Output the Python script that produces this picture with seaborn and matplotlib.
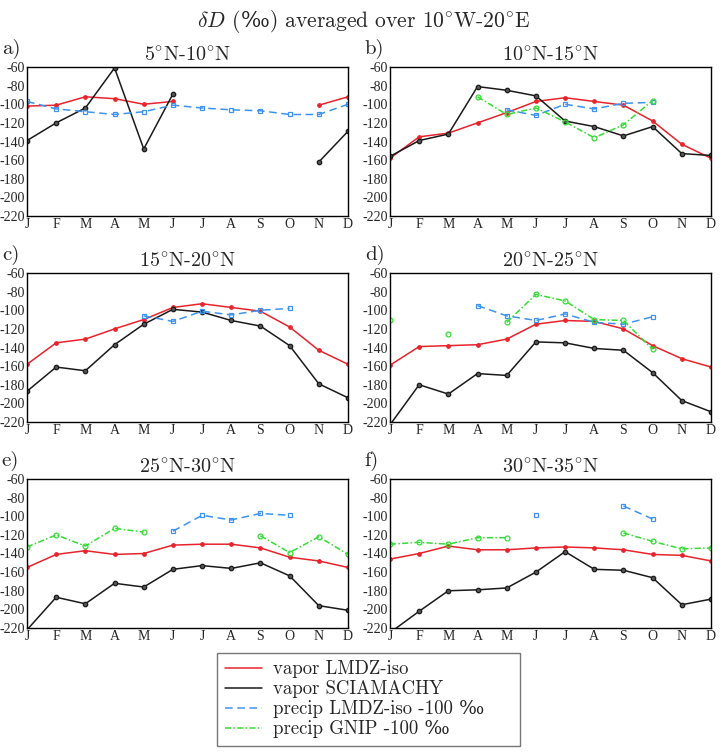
import numpy as np
import pandas as pd
import seaborn as sns
import matplotlib.pyplot as plt
import matplotlib.transforms as mtransforms
from matplotlib.lines import Line2D

nan = np.nan

months = ["J", "F", "M", "A", "M", "J", "J", "A", "S", "O", "N", "D"]
regions = [r"5$^{\circ}$N-10$^{\circ}$N", r"10$^{\circ}$N-15$^{\circ}$N",
           r"15$^{\circ}$N-20$^{\circ}$N", r"20$^{\circ}$N-25$^{\circ}$N",
           r"25$^{\circ}$N-30$^{\circ}$N", r"30$^{\circ}$N-35$^{\circ}$N"]
letters = ["a)", "b)", "c)", "d)", "e)", "f)"]
yticks = [-220, -200, -180, -160, -140, -120, -100, -80, -60]

# one row per panel (a..f), one column per month
vapor_lmdz = [
    [-102, -101, -92, -94, -100, -97, nan, nan, nan, nan, -101, -92],
    [-158, -135, -131, -120, -109, -97, -93, -97, -101, -118, -143, -158],
    [-158, -135, -131, -120, -110, -97, -93, -97, -101, -118, -143, -158],
    [-159, -139, -138, -137, -131, -115, -111, -112, -120, -138, -152, -161],
    [-155, -141, -137, -141, -140, -131, -130, -130, -134, -144, -148, -155],
    [-146, -140, -132, -136, -136, -134, -133, -134, -136, -141, -142, -148],
]
vapor_sciamachy = [
    [-139, -120, -104, -61, -148, -89, nan, nan, nan, nan, -162, -129],
    [-156, -139, -132, -81, -85, -91, -118, -124, -134, -124, -153, -155],
    [-187, -161, -165, -137, -115, -99, -102, -111, -117, -138, -179, -194],
    [-223, -180, -190, -168, -170, -134, -135, -141, -143, -167, -197, -209],
    [-222, -187, -194, -172, -176, -157, -153, -156, -150, -164, -196, -201],
    [-225, -202, -180, -179, -177, -160, -138, -157, -158, -166, -195, -189],
]
precip_lmdz = [
    [-97, -105, -108, -111, -108, -101, -104, -106, -107, -111, -111, -100],
    [nan, nan, nan, nan, -106, -112, -100, -105, -99, -98, nan, nan],
    [nan, nan, nan, nan, -106, -112, -101, -105, -100, -98, nan, nan],
    [nan, nan, nan, -95, -106, -111, -104, -113, -115, -107, nan, nan],
    [nan, nan, nan, nan, nan, -116, -99, -104, -97, -99, nan, nan],
    [nan, nan, nan, nan, nan, -99, nan, nan, -89, -103, nan, nan],
]
precip_gnip = [
    [nan] * 12,
    [nan, nan, nan, -92, -111, -104, -119, -136, -122, -96, nan, nan],
    [nan] * 12,
    [-110, nan, -125, nan, -113, -83, -90, -110, -111, -142, nan, nan],
    [-133, -120, -132, -113, -117, nan, nan, nan, -121, -139, -122, -141],
    [-130, -128, -130, -123, -123, nan, nan, nan, -118, -127, -135, -134],
]

styles = [
    ("vapor LMDZ-iso", vapor_lmdz, "#e8232b", "-", "o", "#e8232b", 2.5),
    ("vapor SCIAMACHY", vapor_sciamachy, "#1a1a1a", "-", "o", "#555555", 3.2),
    ("precip LMDZ-iso -100 ‰", precip_lmdz, "#3d94f0", (0, (5, 3)), "s", "none", 3.5),
    ("precip GNIP -100 ‰", precip_gnip, "#33dd33", (0, (4, 1.5, 1, 1.5)), "o", "none", 3.5),
]

sns.set_style("white")
plt.rcParams["font.family"] = ["cmr10", "DejaVu Serif"]
plt.rcParams["mathtext.fontset"] = "cm"
plt.rcParams["axes.formatter.use_mathtext"] = True
tick_font = "Liberation Serif"

fig = plt.figure(figsize=(7.2, 7.54), dpi=100)


def draw_series(ax, values, color, ls, marker, mfc, ms):
    df = pd.DataFrame({"month": np.arange(12), "value": values})
    df["run"] = df["value"].isna().cumsum()
    df = df.dropna()
    for _, seg in df.groupby("run"):
        sns.lineplot(data=seg, x="month", y="value", ax=ax, color=color,
                     linestyle=ls, linewidth=1.1, marker=marker,
                     markerfacecolor=mfc, markeredgecolor=color,
                     markeredgewidth=0.9, markersize=ms, legend=False)


lefts = [27 / 720, 390 / 720]
bottoms = [1 - 216 / 754, 1 - 422 / 754, 1 - 628 / 754]
w, h = 321 / 720, 149 / 754

for i in range(6):
    r, c = divmod(i, 2)
    ax = fig.add_axes([lefts[c], bottoms[r], w, h])
    for name, series, color, ls, marker, mfc, ms in styles:
        draw_series(ax, series[i], color, ls, marker, mfc, ms)
    ax.set_xlim(0, 11)
    ax.set_ylim(-220, -60)
    ax.set_xticks(range(12))
    ax.set_xticklabels(months)
    ax.set_yticks(yticks)
    ax.set_yticklabels([str(v) for v in yticks])
    for lab in ax.get_xticklabels() + ax.get_yticklabels():
        lab.set_fontfamily(tick_font)
        lab.set_fontsize(10)
    ax.tick_params(direction="in", length=2, pad=1.5)
    ax.set_xlabel("")
    ax.set_ylabel("")
    for sp in ax.spines.values():
        sp.set_color("black")
        sp.set_linewidth(1.0)
    ax.set_title(regions[i], fontsize=14.5, pad=5)
    fig.text(lefts[c] - 0.035, bottoms[r] + h + 0.01, letters[i], fontsize=15,
             ha="left", va="bottom")

# main title in pieces so the per-mille sign comes from a font that has it
renderer = fig.canvas.get_renderer()
trans = fig.transFigure
title_parts = [(r"$\delta D$ (", None), ("‰", "DejaVu Serif"),
               (r") averaged over 10$^{\circ}$W-20$^{\circ}$E", None)]
for s, fam in title_parts:
    kw = {"family": fam} if fam else {}
    t = fig.text(197 / 720, 1 - 27 / 754, s, transform=trans, fontsize=15.5,
                 va="baseline", ha="left", **kw)
    ex = t.get_window_extent(renderer)
    trans = mtransforms.offset_copy(t.get_transform(), fig=fig, x=ex.width, units="dots")

handles = [Line2D([], [], color=s[2], linestyle=s[3], linewidth=1.1) for s in styles]
leg = fig.legend(handles, [s[0] for s in styles], loc="upper left",
                 bbox_to_anchor=(217 / 720, 1 - 653 / 754, 303 / 720, 0),
                 mode="expand", frameon=True, fancybox=False, fontsize=13.5,
                 handlelength=2.0, labelspacing=0.1, borderpad=0.4,
                 borderaxespad=0, handletextpad=0.6)
leg.get_frame().set_edgecolor("#555555")
leg.get_frame().set_linewidth(1.0)

fig.savefig("out.png", dpi=100)
